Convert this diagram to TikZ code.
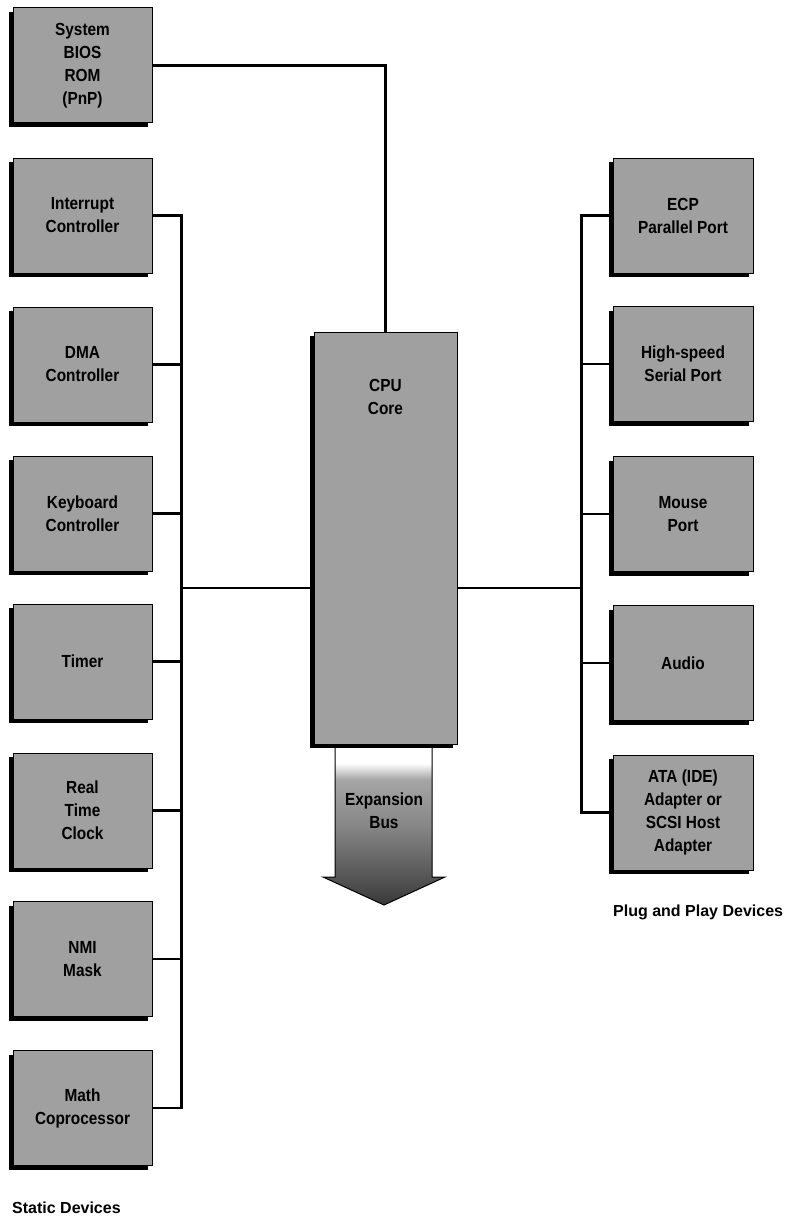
\documentclass[tikz,border=0pt]{standalone}
\usepackage{fontspec}
\setmainfont{Liberation Sans}
\newfontfamily\boxfont{Liberation Sans}[FakeStretch=0.88]
\usetikzlibrary{shadows,positioning}
\definecolor{boxgray}{HTML}{A0A0A0}
\pgfdeclareverticalshading{busfade}{100bp}{color(0bp)=(black!80); color(25bp)=(black!78); color(35bp)=(black!65); color(50bp)=(black!47); color(64bp)=(black!35); color(69bp)=(white); color(75bp)=(white); color(100bp)=(white)}
\tikzset{
  devbox/.style={draw=black,line width=1pt,fill=boxgray,minimum width=139pt,minimum height=115pt,
    align=center,font=\boxfont\fontsize{17.5}{23}\selectfont\bfseries,
    drop shadow={shadow xshift=-4pt,shadow yshift=-4pt,fill=black,opacity=1}},
  boxtext/.style={align=center,font=\boxfont\fontsize{17.5}{23}\selectfont\bfseries},
  link/.style={line width=2.4pt},
  grouplabel/.style={anchor=west,inner sep=0pt,font=\fontsize{16}{19}\selectfont\bfseries}
}

\begin{document}
\begin{tikzpicture}[x=1pt,y=-1pt]
        \useasboundingbox (0,0) rectangle (787,1220);
        \shade[shading=busfade] (335,744) -- (432,744) -- (432,877) -- (445,877) -- (384,905) -- (323,877) -- (335,877) -- cycle;
        \draw[line width=1pt] (335,744) -- (335,877) -- (323,877) -- (384,905) -- (445,877) -- (432,877) -- (432,744);
        \node[boxtext] (bus) at (384,811) {Expansion\\Bus};
        \node[devbox,minimum width=143pt,minimum height=412pt] (cpu) at (385.5,538) {};
        \node[boxtext] (cpulabel) at ([yshift=-65pt]cpu.north) {CPU\\Core};
        \node[devbox] (bios) at (82.5,65.5) {System\\BIOS\\ROM\\(PnP)};
        \node[devbox] (intr) at (82.5,215.5) {Interrupt\\Controller};
        \node[devbox] (dma) at (82.5,364.5) {DMA\\Controller};
        \node[devbox] (kbd) at (82.5,513.5) {Keyboard\\Controller};
        \node[devbox] (timer) at (82.5,661.5) {Timer};
        \node[devbox] (rtc) at (82.5,810.5) {Real\\Time\\Clock};
        \node[devbox] (nmi) at (82.5,959) {NMI\\Mask};
        \node[devbox] (math) at (82.5,1108) {Math\\Coprocessor};
        \node[devbox,minimum width=140pt] (ecp) at (683,215.5) {ECP\\Parallel Port};
        \node[devbox,minimum width=140pt] (hspd) at (683,364) {High-speed\\Serial Port};
        \node[devbox,minimum width=140pt] (mouse) at (683,514) {Mouse\\Port};
        \node[devbox,minimum width=140pt] (audio) at (683,663) {Audio};
        \node[devbox,minimum width=140pt] (ata) at (683,812.5) {ATA (IDE)\\Adapter or\\SCSI Host\\Adapter};
        \draw[link] (bios.east) -| (cpu.north);
        \draw[link] (intr.east) -- ++(29,0) coordinate (ltop) |- (math.east);
        \foreach \dev in {dma,kbd,timer,rtc,nmi}
          \draw[link] (\dev.east) -- (\dev.east -| ltop);
        \coordinate (lhub) at (181,588);
        \draw[link] (lhub) -- (lhub -| cpu.west);
        \draw[link] (ecp.west) -- ++(-31,0) coordinate (rtop) |- (ata.west);
        \foreach \dev in {hspd,mouse,audio}
          \draw[link] (\dev.west) -- (\dev.west -| rtop);
        \coordinate (rhub) at (582,588);
        \draw[link] (rhub) -- (rhub -| cpu.east);
        \node[grouplabel] (pnp) at (613,912) {Plug and Play Devices};
        \node[grouplabel] (static) at (12,1208) {Static Devices};
      \end{tikzpicture}
\end{document}
